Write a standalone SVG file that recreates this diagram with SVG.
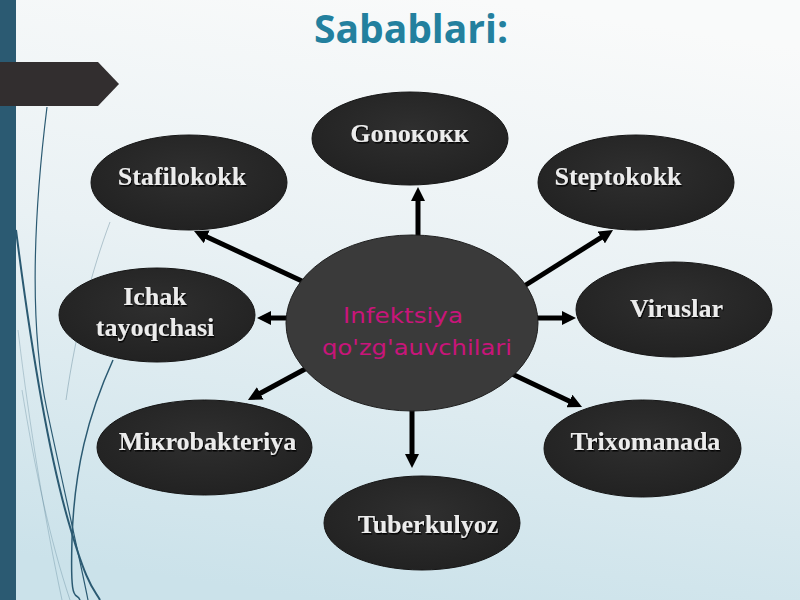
<svg xmlns="http://www.w3.org/2000/svg" width="800" height="600" viewBox="0 0 800 600">
<defs>
<linearGradient id="bg" x1="0.6" y1="0" x2="0.4" y2="1">
<stop offset="0" stop-color="#f9fafa"/>
<stop offset="0.45" stop-color="#e9f1f4"/>
<stop offset="1" stop-color="#cbe2ea"/>
</linearGradient>
<radialGradient id="nodeFill" cx="0.5" cy="0.4" r="0.6">
<stop offset="0" stop-color="#2f2f2f"/>
<stop offset="1" stop-color="#222222"/>
</radialGradient>
<filter id="sh" x="-10%" y="-30%" width="120%" height="160%">
<feDropShadow dx="1" dy="1.5" stdDeviation="0.6" flood-color="#000" flood-opacity="0.9"/>
</filter>
<marker id="ah" markerUnits="userSpaceOnUse" viewBox="0 0 14 14" markerWidth="14" markerHeight="14" refX="2" refY="7" orient="auto">
<path d="M0,0 L14,7 L0,14 z" fill="#000"/>
</marker>
</defs>
<style>
.node ellipse{fill:url(#nodeFill);stroke:#151515;stroke-width:1}
.lbl{font-family:"Liberation Serif","Times New Roman",serif;font-weight:bold;font-size:26px;fill:#ececec;text-anchor:middle;filter:url(#sh)}
.conn line{stroke:#000;stroke-width:5;marker-end:url(#ah)}
.deco{fill:none;stroke:#2b5a72}
</style>
<rect width="800" height="600" fill="url(#bg)"/>
<g id="decor">
<path class="deco" stroke-width="1.2" d="M47,107 C33,220 30,330 47,410 S80,560 88,600"/>
<path class="deco" stroke-width="2" d="M16,230 C30,340 48,450 68,520 S95,590 100,600"/>
<path class="deco" stroke-width="1.5" d="M113,360 C88,415 74,470 72,540 S76,590 80,600"/>
<path class="deco" stroke-width="1" opacity="0.3" d="M110,222 C92,270 76,330 66,400"/>
<path class="deco" stroke-width="1" opacity="0.25" d="M18,330 C30,430 45,520 62,600"/>
<path class="deco" stroke-width="1" opacity="0.25" d="M22,390 C35,470 50,540 70,600"/>
<rect x="0" y="0" width="16" height="600" fill="#2b5a72"/>
<polygon points="0,62 98,62 119,84 98,106 0,106" fill="#322e2f"/>
</g>
<text x="411" y="43" font-family="'Open Sans','DejaVu Sans',sans-serif" font-weight="bold" font-size="39" fill="#23809e" text-anchor="middle">Sabablari:</text>
<g id="connectors" class="conn">
<line x1="418" y1="240" x2="418" y2="199"/>
<line x1="304" y1="282" x2="204.9" y2="236"/>
<line x1="521" y1="288" x2="602.9" y2="236.4"/>
<line x1="535" y1="318" x2="564" y2="318"/>
<line x1="291" y1="318" x2="269" y2="318"/>
<line x1="307" y1="368" x2="258.5" y2="394.3"/>
<line x1="412" y1="409" x2="412" y2="456"/>
<line x1="510" y1="373" x2="571.2" y2="401.9"/>
</g>
<g id="center" class="node">
<ellipse cx="412" cy="323" rx="126" ry="88" style="fill:#3a3a3a;stroke:#202020"/>
<text x="343" y="323" font-family="'DejaVu Sans','Liberation Sans',sans-serif" font-size="21" fill="#c8157a" textLength="120" lengthAdjust="spacingAndGlyphs">Infektsiya</text>
<text x="322" y="355" font-family="'DejaVu Sans','Liberation Sans',sans-serif" font-size="21" fill="#c8157a" textLength="190" lengthAdjust="spacingAndGlyphs">qo'zg'auvchilari</text>
</g>
<g id="gonokokk" class="node">
<ellipse cx="410" cy="138.5" rx="98" ry="46.5"/>
<text class="lbl" x="409.5" y="142">Gonoкoкк</text>
</g>
<g id="stafilokokk" class="node">
<ellipse cx="189" cy="182.5" rx="98" ry="47.5"/>
<text class="lbl" x="182" y="185">Stafilokokk</text>
</g>
<g id="steptokokk" class="node">
<ellipse cx="636" cy="182.5" rx="98" ry="47.5"/>
<text class="lbl" x="618" y="185">Steptokokk</text>
</g>
<g id="ichak" class="node">
<ellipse cx="157" cy="315" rx="98" ry="47"/>
<text class="lbl" x="155" y="305">Ichak</text>
<text class="lbl" x="155" y="336">tayoqchasi</text>
</g>
<g id="viruslar" class="node">
<ellipse cx="674" cy="309.5" rx="98" ry="47.5"/>
<text class="lbl" x="676.5" y="317">Viruslar</text>
</g>
<g id="mikrobakteriya" class="node">
<ellipse cx="204.5" cy="447.5" rx="107.5" ry="47.5"/>
<text class="lbl" x="207.5" y="450">Miкrobakteriya</text>
</g>
<g id="trixomanada" class="node">
<ellipse cx="642.5" cy="448.5" rx="98.5" ry="48.5"/>
<text class="lbl" x="645.5" y="450">Trixomanada</text>
</g>
<g id="tuberkulyoz" class="node">
<ellipse cx="422" cy="523" rx="98" ry="47"/>
<text class="lbl" x="428" y="533">Tuberkulyoz</text>
</g>
</svg>
